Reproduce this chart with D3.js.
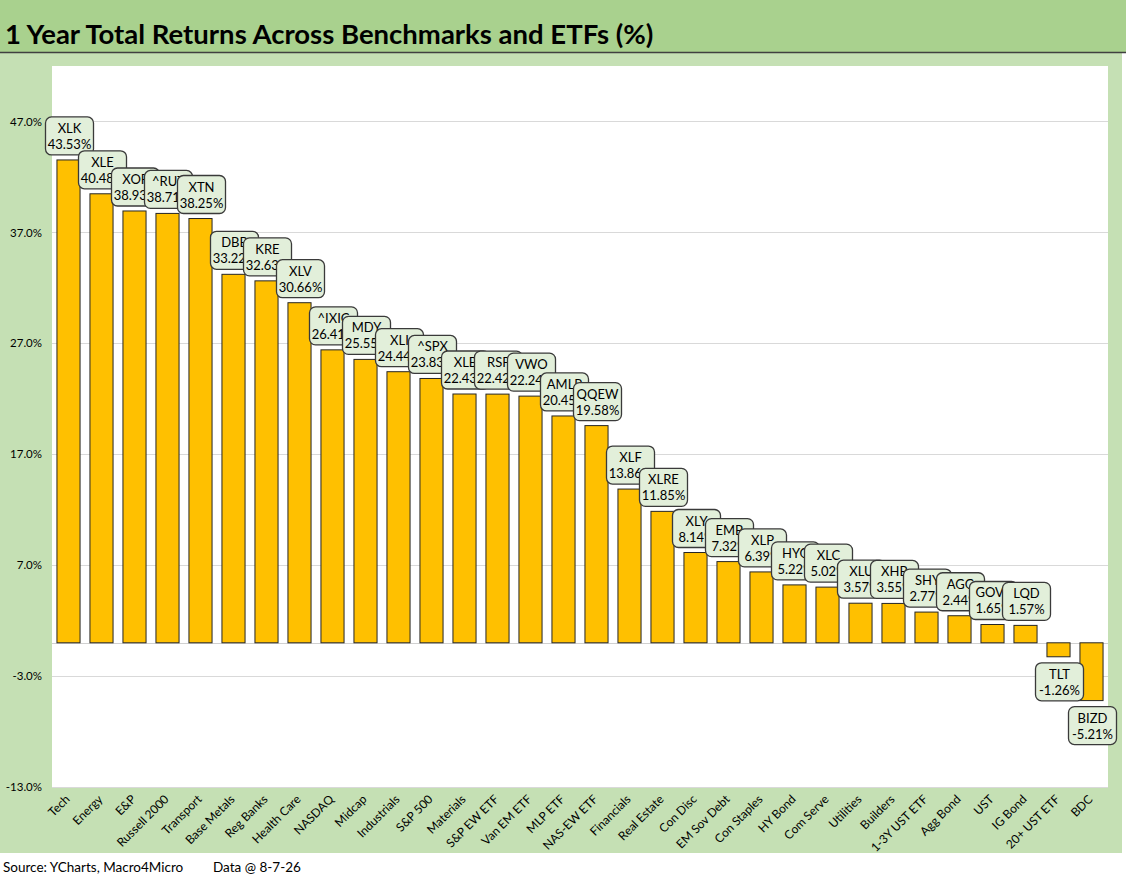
<!DOCTYPE html>
<html>
<head>
<meta charset="utf-8">
<script src="https://cdn.jsdelivr.net/npm/d3@7"></script>
<style>
  body { margin: 0; background: #fff; }
  svg { display: block; font-family: Lato, "Open Sans", sans-serif; }
</style>
</head>
<body>
<svg id="chart" width="1126" height="885"></svg>
<script>
// Chart data
const categories = ["Tech", "Energy", "E&P", "Russell 2000", "Transport", "Base Metals", "Reg Banks",
  "Health Care", "NASDAQ", "Midcap", "Industrials", "S&P 500", "Materials", "S&P EW ETF", "Van EM ETF",
  "MLP ETF", "NAS-EW ETF", "Financials", "Real Estate", "Con Disc", "EM Sov Debt", "Con Staples",
  "HY Bond", "Com Serve", "Utilities", "Builders", "1-3Y UST ETF", "Agg Bond", "UST", "IG Bond",
  "20+ UST ETF", "BDC"];
const tickers = ["XLK", "XLE", "XOP", "^RUT", "XTN", "DBB", "KRE", "XLV", "^IXIC", "MDY", "XLI", "^SPX",
  "XLB", "RSP", "VWO", "AMLP", "QQEW", "XLF", "XLRE", "XLY", "EMB", "XLP", "HYG", "XLC", "XLU", "XHB",
  "SHY", "AGG", "GOVT", "LQD", "TLT", "BIZD"];
const returns = [43.53, 40.48, 38.93, 38.71, 38.25, 33.22, 32.63, 30.66, 26.41, 25.55, 24.44, 23.83,
  22.43, 22.42, 22.24, 20.45, 19.58, 13.86, 11.85, 8.14, 7.32, 6.39, 5.22, 5.02, 3.57, 3.55,
  2.77, 2.44, 1.65, 1.57, -1.26, -5.21];
const yTicks = [-13, -3, 7, 17, 27, 37, 47];

const data = categories.map((c, i) => ({ cat: c, ticker: tickers[i], value: returns[i] }));

const svg = d3.select('#chart');

// background bands
svg.append('rect').attr('x', 0).attr('y', 0).attr('width', 1126).attr('height', 52).attr('fill', '#a9d18e');
svg.append('rect').attr('x', 0).attr('y', 53).attr('width', 1122).attr('height', 800).attr('fill', '#c5e0b4');
svg.append('line').attr('x1', 0).attr('x2', 1126).attr('y1', 52.5).attr('y2', 52.5)
  .attr('stroke', '#404040').attr('stroke-width', 1.5);

svg.append('text')
  .attr('x', 5).attr('y', 44)
  .attr('font-size', 27.5).attr('font-weight', 'bold').attr('fill', '#000')
  .text('1 Year Total Returns Across Benchmarks and ETFs (%)');

const plot = { left: 52, right: 1108, top: 66, bottom: 787 };
svg.append('rect')
  .attr('x', plot.left).attr('y', plot.top)
  .attr('width', plot.right - plot.left).attr('height', plot.bottom - plot.top)
  .attr('fill', '#fff');

const x = d3.scaleBand().domain(categories).range([plot.left, plot.right])
  .paddingInner(0.3).paddingOuter(0.15);
const y = d3.scaleLinear().domain([-13, 52]).range([plot.bottom, plot.top]);

// gridlines
svg.append('g').selectAll('line').data(yTicks).enter().append('line')
  .attr('x1', plot.left).attr('x2', plot.right)
  .attr('y1', d => Math.round(y(d)) + 0.5).attr('y2', d => Math.round(y(d)) + 0.5)
  .attr('stroke', '#d9d9d9');
svg.append('line')
  .attr('x1', plot.left).attr('x2', plot.right)
  .attr('y1', Math.round(y(0)) + 0.5).attr('y2', Math.round(y(0)) + 0.5)
  .attr('stroke', '#d0d0d0');

// y axis labels
const yAxis = d3.axisLeft(y).tickValues(yTicks).tickFormat(d => d.toFixed(1) + '%').tickSize(0).tickPadding(0);
const yg = svg.append('g').attr('transform', `translate(${plot.left - 10},0)`).call(yAxis);
yg.select('.domain').remove();
yg.selectAll('text').attr('font-size', 11.5).attr('fill', '#000').attr('font-family', 'Lato, sans-serif');

// bars
svg.append('g').selectAll('rect').data(data).enter().append('rect')
  .attr('x', d => x(d.cat))
  .attr('y', d => y(Math.max(0, d.value)))
  .attr('width', x.bandwidth())
  .attr('height', d => Math.abs(y(d.value) - y(0)))
  .attr('fill', '#ffc000')
  .attr('stroke', '#262626')
  .attr('stroke-width', 1);

// x labels
const xAxis = d3.axisBottom(x).tickSize(0).tickPadding(0);
const xg = svg.append('g').attr('transform', `translate(0,${plot.bottom})`).call(xAxis);
xg.select('.domain').remove();
xg.selectAll('text')
  .attr('font-size', 12).attr('fill', '#000').attr('font-family', 'Lato, sans-serif')
  .attr('text-anchor', 'end')
  .attr('dy', 0)
  .attr('transform', 'translate(2,13) rotate(-45)');

// data label boxes, drawn in order so later ones cover earlier
const boxW = 48, boxH = 38;
const labels = svg.append('g').selectAll('g').data(data).enter().append('g')
  .attr('transform', d => {
    const cx = x(d.cat) + x.bandwidth() / 2 + 1;
    const top = d.value >= 0 ? y(d.value) - 5 - boxH : y(d.value) + 6;
    return `translate(${cx - boxW / 2},${top})`;
  });
labels.append('rect')
  .attr('width', boxW).attr('height', boxH).attr('rx', 6)
  .attr('fill', '#e2efda').attr('stroke', '#3a3a3a').attr('stroke-width', 1.3);
labels.append('text')
  .attr('x', boxW / 2).attr('y', 16).attr('text-anchor', 'middle')
  .attr('font-size', 13).attr('fill', '#000')
  .text(d => d.ticker);
labels.append('text')
  .attr('x', boxW / 2).attr('y', 32).attr('text-anchor', 'middle')
  .attr('font-size', 13).attr('fill', '#000')
  .text(d => d.value.toFixed(2) + '%');

// footer
svg.append('text').attr('x', 3).attr('y', 872).attr('font-size', 13.5).attr('fill', '#000')
  .text('Source: YCharts, Macro4Micro');
svg.append('text').attr('x', 213).attr('y', 872).attr('font-size', 13.5).attr('fill', '#000')
  .text('Data @ 8-7-26');
</script>
</body>
</html>
